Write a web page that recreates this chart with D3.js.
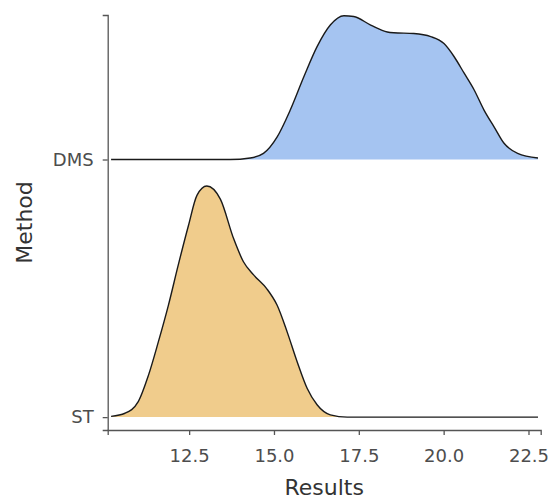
<!DOCTYPE html>
<html>
<head>
<meta charset="utf-8">
<script src="https://cdn.jsdelivr.net/npm/d3@7"></script>
<style>
  body { margin: 0; background: #fff; }
  svg { display: block; font-family: "DejaVu Sans", sans-serif; }
</style>
</head>
<body>
<div id="chart"></div>
<script>
// methods, bottom to top
var methods = ["ST", "DMS"];
var xTicks = [12.5, 15.0, 17.5, 20.0, 22.5];

// density curves (Results, density)
var stX = [10.2, 10.61, 11.0, 11.3, 11.59, 11.89, 12.18, 12.48, 12.73, 13.02, 13.42, 13.81, 14.1, 14.4, 14.79, 15.09, 15.39, 15.68, 15.98, 16.27, 16.66, 17.16, 18.5, 20.0, 21.5, 22.78];
var stY = [0.001, 0.005, 0.02, 0.054, 0.097, 0.145, 0.197, 0.248, 0.287, 0.299, 0.282, 0.231, 0.201, 0.184, 0.166, 0.145, 0.11, 0.072, 0.037, 0.016, 0.003, 0.0, 0.0, 0.0, 0.0, 0.0];

var dmsX = [10.2, 11.5, 12.8, 13.71, 14.3, 14.69, 15.09, 15.48, 15.88, 16.27, 16.66, 17.06, 17.35, 17.85, 18.34, 18.53, 19.12, 19.62, 20.01, 20.31, 20.6, 20.9, 21.19, 21.49, 21.78, 22.18, 22.78];
var dmsY = [0.0, 0.0, 0.0, 0.0, 0.002, 0.008, 0.029, 0.064, 0.107, 0.146, 0.174, 0.186, 0.185, 0.174, 0.165, 0.164, 0.163, 0.159, 0.15, 0.133, 0.112, 0.09, 0.064, 0.042, 0.021, 0.008, 0.002];

var fills = { "ST": "#F0CC8C", "DMS": "#A5C4F1" };
var ridgeScale = 3.0; // density -> category units

var width = 550, height = 501;
var margin = { top: 15, right: 9.3, bottom: 71, left: 107.7 };

var svg = d3.select("#chart").append("svg")
  .attr("width", width)
  .attr("height", height);

var x = d3.scaleLinear()
  .domain([10.1, 22.86])
  .range([margin.left, width - margin.right]);

var y = d3.scaleLinear()
  .domain([-0.05, 1.561])
  .range([height - margin.bottom, margin.top]);

var ridges = [
  { name: "DMS", xs: dmsX, ys: dmsY },
  { name: "ST", xs: stX, ys: stY }
];

ridges.forEach(function(r) {
  var base = methods.indexOf(r.name);
  var pts = r.xs.map(function(v, i) { return [v, r.ys[i]]; });

  var area = d3.area()
    .x(function(d) { return x(d[0]); })
    .y0(y(base))
    .y1(function(d) { return y(base + d[1] * ridgeScale); })
    .curve(d3.curveMonotoneX);

  var line = d3.line()
    .x(function(d) { return x(d[0]); })
    .y(function(d) { return y(base + d[1] * ridgeScale); })
    .curve(d3.curveMonotoneX);

  svg.append("path")
    .datum(pts)
    .attr("d", area)
    .attr("fill", fills[r.name]);

  svg.append("path")
    .datum(pts)
    .attr("d", line)
    .attr("fill", "none")
    .attr("stroke", "#1a1a1a")
    .attr("stroke-width", 1.4);
});

// axes
var xAxis = svg.append("g")
  .attr("transform", "translate(0," + (height - margin.bottom) + ")")
  .call(d3.axisBottom(x).tickValues(xTicks).tickFormat(d3.format(".1f")).tickSizeOuter(0).tickSize(5).tickPadding(14));

var yAxis = svg.append("g")
  .attr("transform", "translate(" + margin.left + ",0)")
  .call(d3.axisLeft(y).tickValues([0, 1]).tickFormat(function(d) { return methods[d]; }).tickSizeOuter(0).tickSize(5).tickPadding(9));

[xAxis, yAxis].forEach(function(g) {
  g.select(".domain").attr("stroke", "#555").attr("stroke-width", 1.3);
  g.selectAll(".tick line").attr("stroke", "#555").attr("stroke-width", 1.3);
  g.selectAll(".tick text")
    .attr("fill", "#4D4D4D")
    .style("font-size", "18px")
    .style("font-family", "DejaVu Sans, sans-serif");
});

svg.append("text")
  .attr("x", (margin.left + width - margin.right) / 2)
  .attr("y", 495)
  .attr("text-anchor", "middle")
  .attr("fill", "#333")
  .style("font-size", "22px")
  .text("Results");

svg.append("text")
  .attr("transform", "translate(32," + ((margin.top + height - margin.bottom) / 2) + ") rotate(-90)")
  .attr("text-anchor", "middle")
  .attr("fill", "#333")
  .style("font-size", "22px")
  .text("Method");
</script>
</body>
</html>
